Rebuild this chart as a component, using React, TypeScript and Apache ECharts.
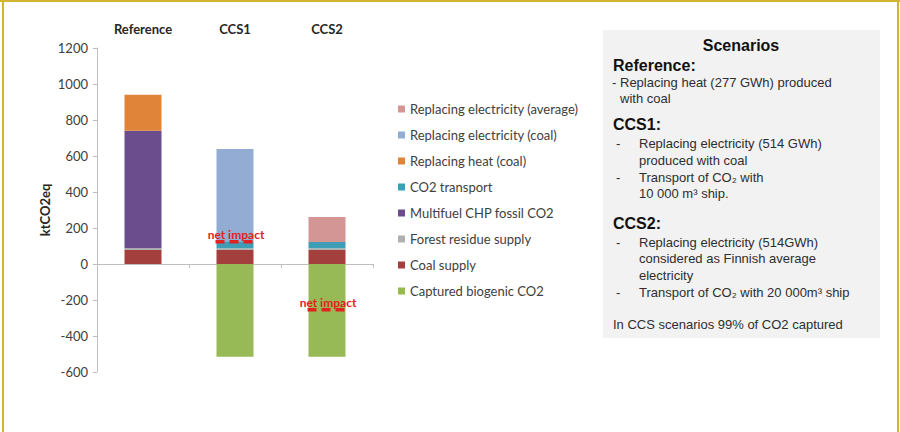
import React, { useEffect, useRef } from "react";
import * as echarts from "echarts";

const categories = ["Reference", "CCS1", "CCS2"];
const coalSupply = [78, 78, 78];
const forestResidue = [10, 10, 10];
const multifuelFossil = [652, null, null];
const co2Transport = [null, 38, 34];
const heatCoal = [200, null, null];
const elecCoal = [null, 513, null];
const elecAverage = [null, null, 139];
const capturedBio = [null, -515, -515];
const netImpactShown = [false, true, true];

const yTicks = { min: -600, max: 1200, interval: 200 };

const legendOrder = [
  "Replacing electricity (average)",
  "Replacing electricity (coal)",
  "Replacing heat (coal)",
  "CO2 transport",
  "Multifuel CHP fossil CO2",
  "Forest residue supply",
  "Coal supply",
  "Captured biogenic CO2",
];

const scenarioLines: { text: string; x: number; y: number; kind: "title" | "head" | "body" }[] = [
  { text: "Scenarios", x: 741, y: 45, kind: "title" },
  { text: "Reference:", x: 613, y: 65, kind: "head" },
  { text: "-", x: 612, y: 82, kind: "body" },
  { text: "Replacing heat (277 GWh) produced", x: 620, y: 82, kind: "body" },
  { text: "with coal", x: 620, y: 98, kind: "body" },
  { text: "CCS1:", x: 613, y: 124, kind: "head" },
  { text: "-", x: 616, y: 143, kind: "body" },
  { text: "Replacing electricity (514 GWh)", x: 639, y: 143, kind: "body" },
  { text: "produced with coal", x: 639, y: 160, kind: "body" },
  { text: "-", x: 616, y: 177, kind: "body" },
  { text: "Transport of CO₂ with", x: 639, y: 177, kind: "body" },
  { text: "10 000 m³ ship.", x: 639, y: 193, kind: "body" },
  { text: "CCS2:", x: 613, y: 223, kind: "head" },
  { text: "-", x: 616, y: 242, kind: "body" },
  { text: "Replacing electricity (514GWh)", x: 639, y: 242, kind: "body" },
  { text: "considered as Finnish average", x: 639, y: 258, kind: "body" },
  { text: "electricity", x: 639, y: 275, kind: "body" },
  { text: "-", x: 616, y: 292, kind: "body" },
  { text: "Transport of CO₂ with 20 000m³ ship", x: 639, y: 292, kind: "body" },
  { text: "In CCS scenarios 99% of CO2 captured", x: 613, y: 324, kind: "body" },
];

const CHART_FONT = "Lato, 'Open Sans', sans-serif";
const BOX_FONT = "'Liberation Sans', Arial, sans-serif";

export default function App() {
  const ref = useRef<HTMLDivElement>(null);

  useEffect(() => {
    if (!ref.current) return;
    const chart = echarts.init(ref.current, undefined, { renderer: "svg" });

    const sumAt = (i: number) =>
      [coalSupply, forestResidue, multifuelFossil, co2Transport, heatCoal, elecCoal, elecAverage, capturedBio]
        .reduce((s, arr) => s + ((arr[i] as number) || 0), 0);
    const netData = categories
      .map((c, i) => (netImpactShown[i] ? [i, sumAt(i)] : null))
      .filter((d) => d !== null);

    const barW = 37;
    const mk = (name: string, data: (number | null)[], color: string) => ({
      name,
      type: "bar",
      stack: "total",
      data,
      barWidth: barW,
      itemStyle: { color },
      xAxisIndex: 0,
    });

    const scenarioGraphics: any[] = scenarioLines.map((l) => ({
      type: "text",
      x: l.x,
      y: l.y,
      style: {
        text: l.text,
        fill: l.kind === "body" ? "#2e2e2e" : "#111111",
        font:
          l.kind === "body"
            ? `13px ${BOX_FONT}`
            : `bold 16px ${BOX_FONT}`,
        textAlign: l.kind === "title" ? "center" : "left",
        textVerticalAlign: "middle",
      },
      z: 10,
    }));

    chart.setOption({
      animation: false,
      backgroundColor: "#ffffff",
      textStyle: { fontFamily: CHART_FONT },
      grid: { left: 97, right: 527, top: 48, bottom: 60, containLabel: false },
      legend: {
        data: legendOrder,
        orient: "vertical",
        left: 393,
        top: 97,
        itemWidth: 7,
        itemHeight: 7,
        itemGap: 12,
        icon: "rect",
        selectedMode: false,
        textStyle: { fontSize: 13, color: "#404040", fontFamily: CHART_FONT, lineHeight: 14 },
      },
      xAxis: [
        {
          type: "category",
          data: categories,
          position: "bottom",
          axisLine: { show: true, onZero: true, lineStyle: { color: "#bfbfbf", width: 1 } },
          axisTick: { show: true, length: 4, lineStyle: { color: "#bfbfbf" } },
          axisLabel: { show: false },
          splitLine: { show: false },
        },
        {
          type: "category",
          data: categories,
          position: "top",
          axisLine: { show: false },
          axisTick: { show: false },
          axisLabel: {
            show: true,
            margin: 13,
            fontSize: 13,
            fontWeight: "bold",
            color: "#262626",
            fontFamily: CHART_FONT,
          },
        },
      ],
      yAxis: {
        type: "value",
        min: yTicks.min,
        max: yTicks.max,
        interval: yTicks.interval,
        name: "ktCO2eq",
        nameLocation: "middle",
        nameGap: 46,
        nameRotate: 90,
        nameTextStyle: { fontSize: 13, fontWeight: "bold", color: "#262626", fontFamily: CHART_FONT },
        axisLine: { show: true, lineStyle: { color: "#bfbfbf" } },
        axisTick: { show: true, length: 4, lineStyle: { color: "#bfbfbf" } },
        axisLabel: {
          fontSize: 13,
          color: "#404040",
          margin: 9,
          fontFamily: CHART_FONT,
          formatter: (v: number) => String(v),
        },
        splitLine: { show: false },
      },
      series: [
        mk("Coal supply", coalSupply, "#a33f3c"),
        mk("Forest residue supply", forestResidue, "#b0b0b0"),
        mk("Multifuel CHP fossil CO2", multifuelFossil, "#6b4c8c"),
        mk("CO2 transport", co2Transport, "#3f9eb5"),
        mk("Replacing heat (coal)", heatCoal, "#e0843a"),
        mk("Replacing electricity (coal)", elecCoal, "#93acd3"),
        mk("Replacing electricity (average)", elecAverage, "#d49595"),
        mk("Captured biogenic CO2", capturedBio, "#97b956"),
        {
          name: "net impact",
          type: "custom",
          xAxisIndex: 0,
          z: 10,
          data: netData,
          renderItem: (params: any, api: any) => {
            const p = api.coord([api.value(0), api.value(1)]);
            const half = barW / 2 + 1;
            return {
              type: "group",
              children: [
                {
                  type: "line",
                  shape: { x1: p[0] - half, y1: p[1], x2: p[0] + half + 2, y2: p[1] },
                  style: { stroke: "#e3211f", lineWidth: 3.5, lineDash: [9, 5] },
                },
                {
                  type: "text",
                  x: p[0] + 1,
                  y: p[1] - 1,
                  style: {
                    text: "net impact",
                    fill: "#e3211f",
                    font: `bold 12px ${CHART_FONT}`,
                    textAlign: "center",
                    textVerticalAlign: "bottom",
                  },
                },
              ],
            };
          },
        },
      ],
      graphic: [
        {
          type: "rect",
          shape: { x: 603, y: 30, width: 277, height: 308 },
          style: { fill: "#f2f2f2" },
          z: 1,
        },
        ...scenarioGraphics,
        {
          type: "line",
          shape: { x1: 0, y1: 1, x2: 900, y2: 1 },
          style: { stroke: "#d4b530", lineWidth: 2 },
          z: 20,
        },
        {
          type: "line",
          shape: { x1: 3, y1: 0, x2: 3, y2: 432 },
          style: { stroke: "#d4b530", lineWidth: 2 },
          z: 20,
        },
        {
          type: "line",
          shape: { x1: 898, y1: 0, x2: 898, y2: 432 },
          style: { stroke: "#d4b530", lineWidth: 2 },
          z: 20,
        },
      ],
    });

    return () => chart.dispose();
  }, []);

  return (
    <div
      ref={ref}
      style={{ position: "fixed", left: 0, top: 0, width: 900, height: 432 }}
    />
  );
}
